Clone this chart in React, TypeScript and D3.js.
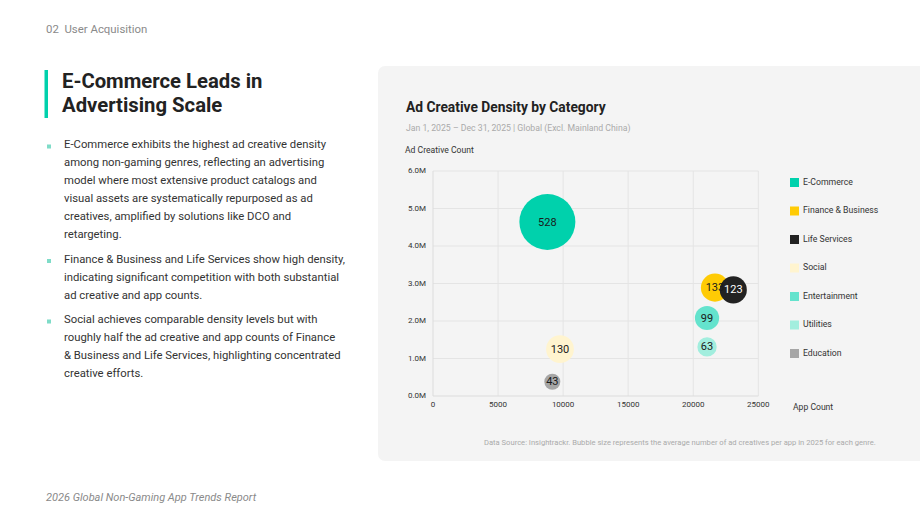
import React from "react";
import * as d3 from "d3";

const categories = ["E-Commerce", "Finance & Business", "Life Services", "Social", "Entertainment", "Utilities", "Education"];
const appCounts = [8790, 21670, 23080, 9760, 21060, 21060, 9170];
const adCreativeCounts = [4.64, 2.89, 2.83, 1.25, 2.08, 1.31, 0.38]; // millions
const density = [528, 133, 123, 130, 99, 63, 43];
const colors = ["#00D1AC", "#FFCB05", "#222222", "#FFF4CF", "#64E3CD", "#A2EEDE", "#A6A6A6"];
const labelColors = ["#1a1a1a", "#1a1a1a", "#ffffff", "#1a1a1a", "#1a1a1a", "#1a1a1a", "#1a1a1a"];
const xTicks = [0, 5000, 10000, 15000, 20000, 25000];
const yTicks = [0, 1, 2, 3, 4, 5, 6];

const bullets = [
  [
    "E-Commerce exhibits the highest ad creative density",
    "among non-gaming genres, reflecting an advertising",
    "model where most extensive product catalogs and",
    "visual assets are systematically repurposed as ad",
    "creatives, amplified by solutions like DCO and",
    "retargeting.",
  ],
  [
    "Finance & Business and Life Services show high density,",
    "indicating significant competition with both substantial",
    "ad creative and app counts.",
  ],
  [
    "Social achieves comparable density levels but with",
    "roughly half the ad creative and app counts of Finance",
    "& Business and Life Services, highlighting concentrated",
    "creative efforts.",
  ],
];

const FONT = "Roboto, 'Noto Sans', sans-serif";

export default function App() {
  const x = d3.scaleLinear().domain([0, 25000]).range([433, 758.3]);
  const y = d3.scaleLinear().domain([0, 6]).range([396, 171]);
  const r = d3.scaleSqrt().domain([0, 528]).range([0, 28]);

  const order = [0, 3, 6, 1, 2, 4, 5];

  let lineY = 145.5;
  const bulletEls: React.ReactNode[] = [];
  bullets.forEach((para, pi) => {
    bulletEls.push(
      <rect key={"b" + pi} x={47} y={lineY - 1} width={4} height={4} fill="#7fdcc8" />
    );
    para.forEach((ln, li) => {
      bulletEls.push(
        <text key={"t" + pi + "-" + li} x={64} y={lineY} fontSize={11.3} fill="#333" dominantBaseline="middle">
          {ln}
        </text>
      );
      lineY += 18;
    });
    lineY += 6.5;
  });

  return (
    <svg width={920} height={519} style={{ position: "absolute", left: 0, top: 0, fontFamily: FONT }}>
      <rect width={920} height={519} fill="#ffffff" />
      <text x={46} y={30} fontSize={11.4} fill="#8a8a8a" dominantBaseline="middle">
        02{"\u00a0\u00a0"}User Acquisition
      </text>
      <rect x={44.5} y={70} width={3.5} height={48} fill="#00D1AC" />
      <text x={62} y={83} fontSize={20.3} fontWeight={700} fill="#222" dominantBaseline="middle">
        E-Commerce Leads in
      </text>
      <text x={62} y={107} fontSize={20.3} fontWeight={700} fill="#222" dominantBaseline="middle">
        Advertising Scale
      </text>
      {bulletEls}
      <text x={46} y={498} fontSize={11} fontStyle="italic" fill="#8a8a8a" dominantBaseline="middle">
        2026 Global Non-Gaming App Trends Report
      </text>

      <rect x={378} y={66} width={560} height={395} rx={7} fill="#f4f4f4" />
      <text x={406} y={108} fontSize={13.8} fontWeight={700} fill="#222" dominantBaseline="middle">
        Ad Creative Density by Category
      </text>
      <text x={406} y={129} fontSize={8.7} fill="#aaaaaa" dominantBaseline="middle">
        Jan 1, 2025 – Dec 31, 2025 | Global (Excl. Mainland China)
      </text>
      <text x={405} y={151} fontSize={8.6} fill="#333" dominantBaseline="middle">
        Ad Creative Count
      </text>

      {yTicks.map((t) => (
        <g key={"y" + t}>
          {t > 0 && <line x1={x(0)} x2={x(25000)} y1={y(t)} y2={y(t)} stroke="#e4e4e4" strokeWidth={1} />}
          <text x={426} y={y(t)} fontSize={8} fill="#333" textAnchor="end" dominantBaseline="middle">
            {t.toFixed(1)}M
          </text>
        </g>
      ))}
      {xTicks.map((t) => (
        <g key={"x" + t}>
          {t > 0 && <line x1={x(t)} x2={x(t)} y1={y(0)} y2={y(6)} stroke="#e4e4e4" strokeWidth={1} />}
          <text x={x(t)} y={405} fontSize={8} fill="#333" textAnchor="middle" dominantBaseline="middle">
            {t}
          </text>
        </g>
      ))}
      <line x1={x(0)} x2={x(25000)} y1={y(0)} y2={y(0)} stroke="#dcdcdc" strokeWidth={1} />
      <line x1={x(0)} x2={x(0)} y1={y(0)} y2={y(6)} stroke="#dcdcdc" strokeWidth={1} />

      {order.map((i) => (
        <circle key={"c" + i} cx={x(appCounts[i])} cy={y(adCreativeCounts[i])} r={r(density[i])} fill={colors[i]} />
      ))}
      {order.map((i) => (
        <text
          key={"v" + i}
          x={x(appCounts[i])}
          y={y(adCreativeCounts[i])}
          fontSize={11}
          fill={labelColors[i]}
          textAnchor="middle"
          dominantBaseline="central"
        >
          {density[i]}
        </text>
      ))}

      {categories.map((c, i) => (
        <g key={"l" + i}>
          <rect x={790} y={178 + i * 28.5} width={9} height={9} fill={colors[i]} />
          <text x={803} y={182.5 + i * 28.5} fontSize={8.7} fill="#333" dominantBaseline="middle">
            {c}
          </text>
        </g>
      ))}
      <text x={793} y={408} fontSize={8.6} fill="#333" dominantBaseline="middle">
        App Count
      </text>
      <text x={484} y={443} fontSize={7.6} fill="#aaaaaa" dominantBaseline="middle">
        Data Source: Insightrackr. Bubble size represents the average number of ad creatives per app in 2025 for each genre.
      </text>
    </svg>
  );
}
